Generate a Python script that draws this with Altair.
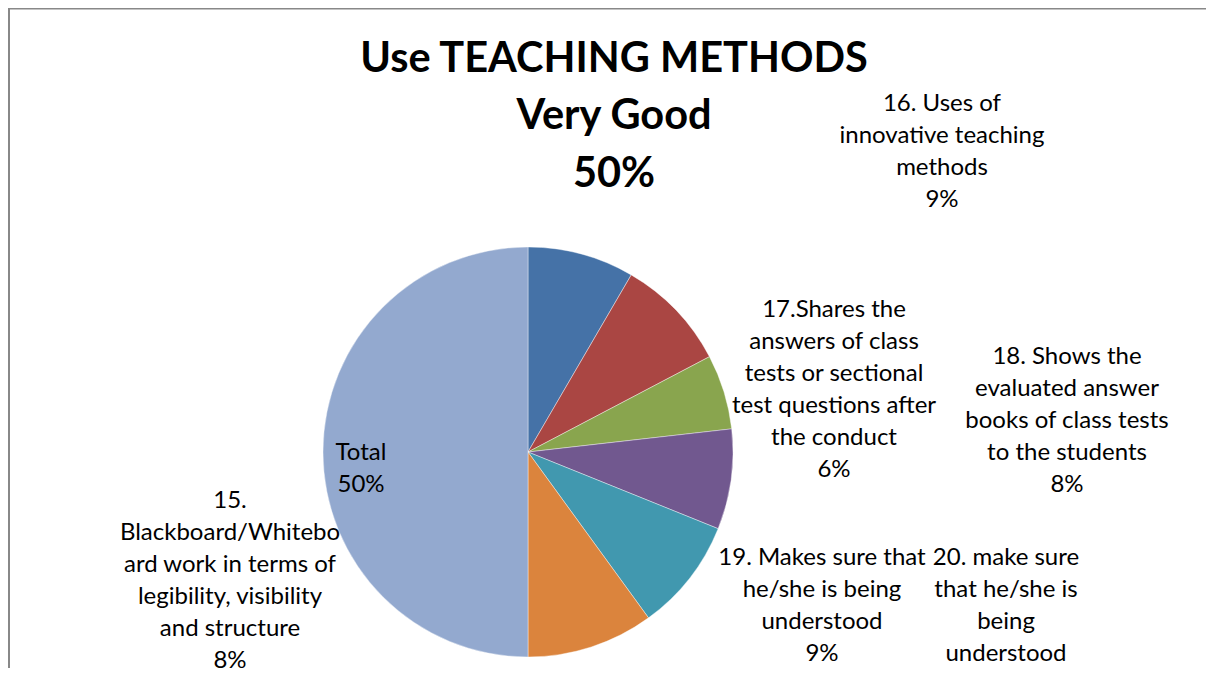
import altair as alt
import pandas as pd

# ---- data ----
categories = [
    "15. Blackboard/Whiteboard work in terms of legibility, visibility and structure",
    "16. Uses of innovative teaching methods",
    "17.Shares the answers of class tests or sectional test questions after the conduct",
    "18. Shows the evaluated answer books of class tests to the students",
    "19. Makes sure that he/she is being understood",
    "20. make sure that he/she is being understood",
    "Total",
]
values = [8.4, 8.9, 5.9, 7.9, 8.9, 10.0, 50.0]
label_lines = [
    ["15.", "Blackboard/Whitebo", "ard work in terms of", "legibility, visibility", "and structure"],
    ["16. Uses of", "innovative teaching", "methods"],
    ["17.Shares the", "answers of class", "tests or sectional", "test questions after", "the conduct"],
    ["18. Shows the", "evaluated answer", "books of class tests", "to the students"],
    ["19. Makes sure that", "he/she is being", "understood"],
    ["20. make sure", "that he/she is", "being", "understood"],
    ["Total"],
]
title_lines = ["Use TEACHING METHODS", "Very Good", "50%"]
colors = ["#4572A7", "#AA4643", "#89A54E", "#71588F", "#4198AF", "#DB843D", "#93A9CF"]

# ---- layout (pixels in chart coordinates) ----
W, H = 1198, 660
CX, CY, R = 520, 444, 205
FS = 24
LH = 32
label_anchor = [  # (x center, top y) of each label block
    (222, 480.5),
    (934, 83.5),
    (826, 289.5),
    (1059, 336.5),
    (814, 537.5),
    (998, 537.5),
    (353, 432.5),
]

df = pd.DataFrame({"cat": categories, "value": values, "idx": list(range(len(values)))})

pie = alt.Chart(df).mark_arc(outerRadius=R, stroke="white", strokeWidth=0.4).encode(
    theta=alt.Theta("value:Q", stack=True),
    color=alt.Color("cat:N", scale=alt.Scale(domain=categories, range=colors), legend=None),
    order=alt.Order("idx:Q"),
    x=alt.value(CX),
    y=alt.value(CY),
)

layers = [pie]
for lines, v, (lx, ly) in zip(label_lines, values, label_anchor):
    txt = "\n".join(lines + [f"{round(v)}%"])
    layers.append(
        alt.Chart(pd.DataFrame({"t": [txt]})).mark_text(
            font="Lato", fontSize=FS, color="black", align="center", baseline="top",
            lineBreak="\n", lineHeight=LH,
        ).encode(text="t:N", x=alt.value(lx), y=alt.value(ly))
    )

layers.append(
    alt.Chart(pd.DataFrame({"t": ["\n".join(title_lines)]})).mark_text(
        font="Lato", fontSize=41.5, fontWeight="bold", color="black", align="center",
        baseline="top", lineBreak="\n", lineHeight=57.5,
    ).encode(text="t:N", x=alt.value(606), y=alt.value(30.5))
)

frame_top = alt.Chart(pd.DataFrame({"a": [0]})).mark_rule(color="#888888", strokeWidth=1.5).encode(
    x=alt.value(0), x2=alt.value(W), y=alt.value(0.75)
)
frame_left = alt.Chart(pd.DataFrame({"a": [0]})).mark_rule(color="#888888", strokeWidth=2).encode(
    x=alt.value(1), y=alt.value(0), y2=alt.value(H)
)
layers += [frame_top, frame_left]

chart = alt.layer(*layers).properties(
    width=W, height=H, padding=0, autosize=alt.AutoSizeParams(type="none")
).configure_view(stroke=None)

chart.save("out.html", embed_options={"renderer": "svg", "actions": False})
